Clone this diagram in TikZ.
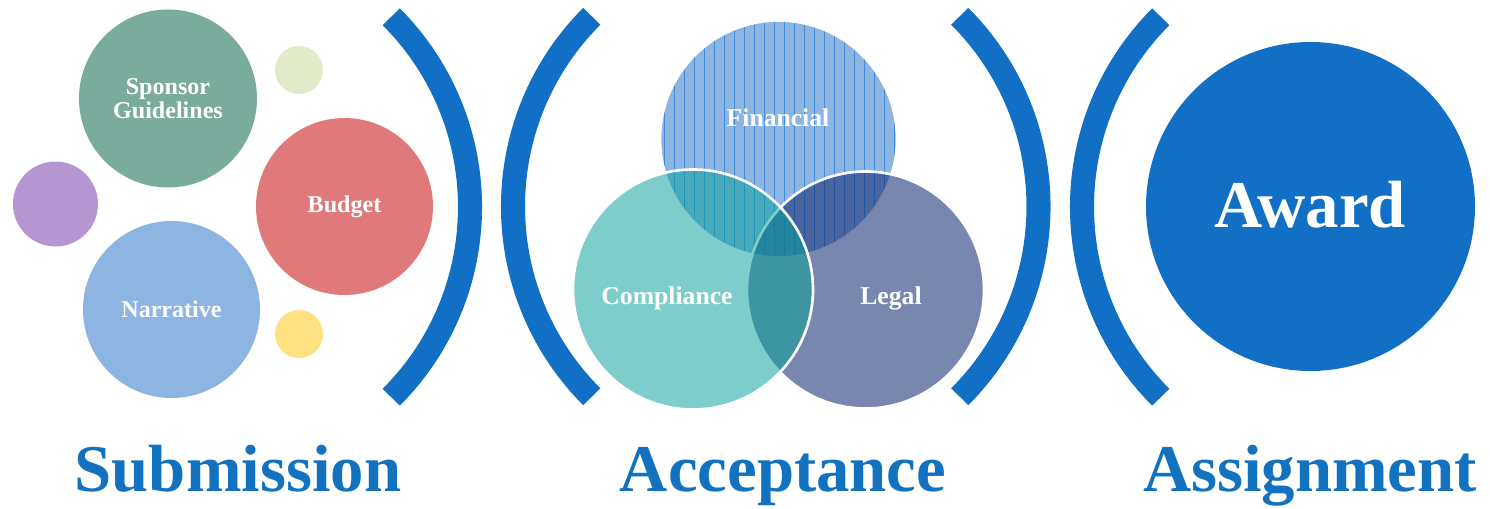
\documentclass[tikz,border=0pt]{standalone}
\usepackage{fontspec}
\setmainfont{Liberation Serif}

\definecolor{mainblue}{RGB}{17,112,198}
\definecolor{titleblue}{RGB}{18,114,192}
\definecolor{sage}{RGB}{122,172,157}
\definecolor{paleleaf}{RGB}{226,235,200}
\definecolor{lilac}{RGB}{180,151,210}
\definecolor{rose}{RGB}{224,122,122}
\definecolor{skyblue}{RGB}{140,181,225}
\definecolor{butter}{RGB}{255,225,130}
\definecolor{stripe}{RGB}{66,138,214}
\definecolor{teal}{RGB}{6,161,155}
\definecolor{navy}{RGB}{16,40,112}

\tikzset{
  bracket/.style={draw=mainblue, line width=13.7pt},
  venn/.style={draw=white, line width=1.5pt},
  inlabel/.style={text=white, font=\fontsize{13.7}{13.5}\selectfont\bfseries, align=center},
  vennlabel/.style={inlabel, font=\fontsize{14.6}{15}\selectfont\bfseries},
  biglabel/.style={font=\fontsize{38}{40}\selectfont\bfseries},
  stagelabel/.style={biglabel, text=titleblue, anchor=base}
}

\begin{document}
\begin{tikzpicture}[x=0.02cm, y=0.02cm]
    \useasboundingbox (0,0) rectangle (1490,508);

    % Centres of the bubbles
    \coordinate (sponsor) at (168,409.5);
    \coordinate (leaf) at (299,438);
    \coordinate (lilac) at (55.5,304);
    \coordinate (budget) at (344.5,301.5);
    \coordinate (narrative) at (171.5,198.5);
    \coordinate (butter) at (299,174);

    % Centres of the venn circles and the award
    \coordinate (financial) at (778.5,369);
    \coordinate (compliance) at (693,218.5);
    \coordinate (legal) at (865.5,218);
    \coordinate (award) at (1310.5,301.5);

    % Centres of the four brackets
    \coordinate (b1) at (201,301);
    \coordinate (b2) at (782,301.5);
    \coordinate (b3) at (769.5,301.5);
    \coordinate (b4) at (1351,301);

    % Submission bubbles
    \fill[sage] (sponsor) circle[radius=89];
    \fill[paleleaf] (leaf) circle[radius=24];
    \fill[lilac] (lilac) circle[radius=42.5];
    \fill[rose] (budget) circle[radius=88.5];
    \fill[skyblue] (narrative) circle[radius=88.5];
    \fill[butter] (butter) circle[radius=24];

    \node[inlabel] (sponsortext) at (sponsor) {Sponsor\\Guidelines};
    \node[inlabel] (budgettext) at (budget) {Budget};
    \node[inlabel] (narrativetext) at (narrative) {Narrative};

    % Brackets
    \draw[bracket] (b1) ++(-45:269) arc[start angle=-45, end angle=45, radius=269];
    \draw[bracket] (b2) ++(135:269) arc[start angle=135, end angle=225, radius=269];
    \draw[bracket] (b3) ++(-45:269) arc[start angle=-45, end angle=45, radius=269];
    \draw[bracket] (b4) ++(135:269) arc[start angle=135, end angle=225, radius=269];

    % Venn: financial with its stripes, then legal and compliance on top
    \fill[skyblue] (financial) circle[radius=118.5];
    \begin{scope}
        \clip (financial) circle[radius=118.5];
        \foreach \x in {664,674,...,894}
            \draw[stripe, line width=0.45pt] (\x,250) -- (\x,490);
    \end{scope}
    \draw[venn] (financial) circle[radius=118.5];
    \draw[venn, fill=navy, fill opacity=0.56] (legal) circle[radius=118.5];
    \draw[venn, fill=teal, fill opacity=0.52] (compliance) circle[radius=120];

    \node[vennlabel] (financialtext) at (778,390) {Financial};
    \node[vennlabel] (compliancetext) at (667,210) {Compliance};
    \node[vennlabel] (legaltext) at (891,210) {Legal};

    % Award
    \fill[mainblue] (award) circle[radius=164.5];
    \node[biglabel, text=white] (awardtext) at (1310,303) {Award};

    % Stage names
    \node[stagelabel] (submission) at (238,17) {Submission};
    \node[stagelabel] (acceptance) at (783,17) {Acceptance};
    \node[stagelabel] (assignment) at (1310,17) {Assignment};
\end{tikzpicture}
\end{document}
